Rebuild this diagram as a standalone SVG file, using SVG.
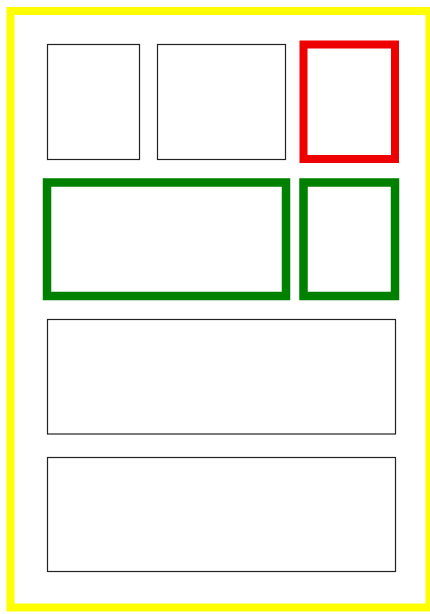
<svg xmlns="http://www.w3.org/2000/svg" width="430" height="614" viewBox="0 0 430 614">
<style>
.frame{fill:none;stroke:#ffff00;stroke-width:8}
.plain{fill:#fff;stroke:#222;stroke-width:1.2}
.red{fill:#fff;stroke:#ee0000;stroke-width:8}
.green{fill:#fff;stroke:#008000;stroke-width:8.5}
</style>
<rect width="430" height="614" fill="#fff"/>
<g id="frame"><rect class="frame" x="10.5" y="11" width="419" height="596.5"/></g>
<g id="box1"><rect class="plain" x="47.5" y="44.5" width="92" height="115"/></g>
<g id="box2"><rect class="plain" x="157.5" y="44.5" width="128" height="115"/></g>
<g id="box3"><rect class="red" x="303.5" y="44.5" width="91.5" height="114.5"/></g>
<g id="box4"><rect class="green" x="47" y="182.5" width="239" height="113.5"/></g>
<g id="box5"><rect class="green" x="303.5" y="182.5" width="91.5" height="113.5"/></g>
<g id="box6"><rect class="plain" x="47.5" y="319.5" width="348" height="114.5"/></g>
<g id="box7"><rect class="plain" x="47.5" y="457.5" width="348" height="114"/></g>
<g id="connectors"></g>
</svg>
